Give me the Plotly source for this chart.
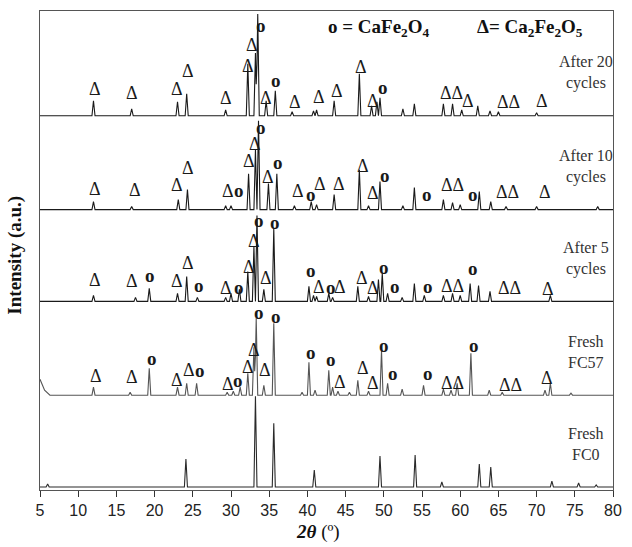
import plotly.graph_objects as go

# ---------------- data (2theta in degrees, intensity in a.u.) ----------------
fc0_pos = [6.0, 24.1, 33.2, 35.6, 40.9, 49.5, 54.1, 57.6, 62.5, 64.0, 72.0, 75.5, 77.8]
fc0_int = [3, 28, 91, 64, 17, 31, 32, 5, 23, 20, 6, 4, 2]

fc57_pos = [12.0, 16.8, 19.3, 23.0, 24.2, 25.5, 29.5, 30.3, 31.2, 32.2, 33.0, 33.3, 34.3, 35.6,
            39.3, 40.2, 41.0, 42.8, 43.3, 44.0, 45.5, 46.6, 48.0, 49.7, 50.5, 52.4, 55.2,
            57.8, 58.8, 59.6, 61.4, 63.8, 65.5, 71.1, 71.8, 74.5]
fc57_int = [8, 3, 27, 8, 12, 12, 3, 4, 8, 22, 48, 77, 10, 72,
            3, 33, 5, 25, 8, 4, 3, 15, 4, 45, 12, 6, 10,
            6, 5, 12, 42, 5, 3, 5, 12, 2]
fc57_bg_x = [5.0, 5.6, 6.3]
fc57_bg_y = [16, 5, 0]

a5_pos = [12.0, 17.5, 19.3, 23.0, 24.2, 25.6, 29.3, 30.0, 31.1, 32.2, 33.0, 33.4, 34.3, 35.6,
          40.2, 40.8, 41.2, 42.8, 43.3, 46.6, 48.0, 49.3, 49.8, 50.5, 52.4, 54.0, 55.3,
          57.8, 59.0, 60.0, 61.3, 62.4, 63.9, 71.8]
a5_int = [6, 4, 13, 8, 25, 4, 4, 8, 12, 30, 55, 86, 12, 73,
          15, 6, 5, 8, 4, 15, 5, 22, 28, 8, 4, 18, 6,
          6, 8, 6, 18, 16, 10, 6]

a10_pos = [12.0, 17.0, 23.1, 24.3, 29.3, 30.0, 32.3, 33.2, 33.6, 34.9, 36.0, 38.3, 40.5, 41.2,
           43.5, 46.8, 48.0, 49.5, 52.5, 54.0, 57.8, 59.0, 60.0, 62.5, 64.0, 66.0, 70.0, 78.0]
a10_int = [8, 3, 10, 20, 4, 4, 36, 60, 89, 26, 36, 4, 8, 5,
           15, 40, 4, 28, 4, 22, 10, 7, 5, 18, 8, 3, 3, 3]

a20_pos = [12.0, 17.0, 23.0, 24.2, 29.3, 32.2, 33.2, 33.5, 34.6, 35.8, 38.0, 40.8, 41.2,
           43.5, 46.8, 48.4, 49.1, 49.5, 52.5, 54.0, 57.8, 59.0, 60.2, 62.3, 63.9, 65.0, 70.0]
a20_int = [15, 7, 14, 22, 6, 52, 63, 102, 15, 25, 4, 5, 6,
           15, 42, 10, 14, 18, 7, 12, 12, 12, 6, 10, 5, 4, 3]

# peak labels: (2theta, symbol, height above trace baseline)
# D = Ca2Fe2O5 triangle, O = CaFe2O4 circle, DD = two adjacent triangles
a20_lab_x = [12.2, 17.1, 22.9, 24.4, 29.4, 32.2, 32.8, 33.9, 34.6, 35.9, 38.4, 41.5, 43.9,
             47.0, 48.6, 49.9, 58.9, 61.0, 66.3, 70.7]
a20_lab_s = ["D", "D", "D", "D", "D", "D", "D", "O", "D", "O", "D", "D", "D",
             "D", "D", "O", "DD", "D", "DD", "D"]
a20_lab_h = [27, 23, 27, 45, 18, 50, 71, 90, 18, 35, 14, 19, 25,
             49, 15, 28, 23, 15, 14, 15]

a10_lab_x = [12.2, 17.4, 22.9, 24.4, 29.6, 31.0, 32.3, 33.2, 33.9, 34.8, 36.1, 38.8, 40.5,
             41.7, 44.1, 47.3, 48.6, 50.1, 55.7, 59.05, 61.7, 66.25, 71.1]
a10_lab_s = ["D", "D", "D", "D", "D", "O", "D", "D", "O", "D", "O", "D", "O",
             "D", "D", "D", "D", "O", "O", "DD", "O", "DD", "D"]
a10_lab_h = [21, 20, 25, 42, 19, 19, 49, 66, 82, 33, 47, 19, 15,
             26, 26, 44, 17, 34, 15, 25, 15, 18, 18]

a5_lab_x = [12.2, 17.1, 19.4, 22.9, 24.4, 25.8, 29.4, 31.0, 32.3, 33.0, 33.6, 34.6, 35.8,
            40.5, 41.5, 43.1, 44.3, 47.1, 48.6, 50.0, 51.4, 55.8, 59.0, 61.7,
            66.4, 71.5]
a5_lab_s = ["D", "D", "O", "D", "D", "O", "D", "O", "D", "D", "O", "D", "O",
            "O", "D", "O", "D", "D", "D", "O", "O", "O", "DD", "O",
            "DD", "D"]
a5_lab_h = [21, 20, 26, 20, 38, 16, 13, 14, 34, 61, 81, 23, 79,
            31, 14, 14, 14, 23, 13, 34, 15, 15, 15, 33,
            13, 12]

fc57_lab_x = [12.3, 17.1, 19.6, 22.9, 24.5, 25.9, 29.6, 30.9, 32.2, 33.0, 33.6, 34.5, 35.9,
              40.5, 43.1, 44.3, 47.3, 48.6, 50.0, 51.2, 55.8, 59.0, 61.8,
              66.55, 71.3]
fc57_lab_s = ["D", "D", "O", "D", "D", "O", "D", "O", "D", "D", "O", "D", "O",
              "O", "O", "D", "D", "D", "O", "O", "O", "DD", "O",
              "DD", "D"]
fc57_lab_h = [19, 18, 37, 15, 25, 25, 11, 15, 28, 45, 83, 25, 79,
              43, 36, 13, 27, 12, 50, 22, 22, 12, 50,
              10, 17]

sample_names = ["Fresh<br>FC0", "Fresh<br>FC57", "After 5<br>cycles",
                "After 10<br>cycles", "After 20<br>cycles"]

# ---------------- layout constants ----------------
offsets = [3, 95, 189, 281, 375]
half_w = 0.2
X_MIN, X_MAX = 5, 80
SYMBOL_TEXT = {"D": "\u0394", "DD": "\u0394\u0394", "O": "<b>o</b>"}
SYMBOL_SIZE = {"D": 18, "DD": 18, "O": 19}


def build_profile(pos, inten, bg_x=None, bg_y=None):
    verts = set([X_MIN, X_MAX])
    for p in pos:
        verts.update([p - half_w, p, p + half_w])
    if bg_x:
        verts.update(bg_x)
    xs = sorted(v for v in verts if X_MIN <= v <= X_MAX)
    ys = []
    for x in xs:
        y = 0.0
        for p, h in zip(pos, inten):
            d = abs(x - p)
            if d < half_w:
                y += h * (1 - d / half_w)
        if bg_x:
            for bx, by in zip(bg_x, bg_y):
                if abs(bx - x) < 1e-9:
                    y += by
        ys.append(y)
    return xs, ys


traces = [
    (fc0_pos, fc0_int, None, None, "#2a2a2a"),
    (fc57_pos, fc57_int, fc57_bg_x, fc57_bg_y, "#555555"),
    (a5_pos, a5_int, None, None, "#1a1a1a"),
    (a10_pos, a10_int, None, None, "#1a1a1a"),
    (a20_pos, a20_int, None, None, "#1a1a1a"),
]
labels = [
    None,
    (fc57_lab_x, fc57_lab_s, fc57_lab_h),
    (a5_lab_x, a5_lab_s, a5_lab_h),
    (a10_lab_x, a10_lab_s, a10_lab_h),
    (a20_lab_x, a20_lab_s, a20_lab_h),
]

fig = go.Figure()
annotations = []
for i, (pos, inten, bx, by, col) in enumerate(traces):
    xs, ys = build_profile(pos, inten, bx, by)
    fig.add_trace(go.Scatter(x=xs, y=[v + offsets[i] for v in ys], mode="lines",
                             line=dict(color=col, width=1.1), showlegend=False,
                             hoverinfo="skip"))
    if labels[i]:
        lx, ls, lh = labels[i]
        for x, s, h in zip(lx, ls, lh):
            annotations.append(dict(x=x, y=h + offsets[i], xref="x", yref="y",
                                    text=SYMBOL_TEXT[s], showarrow=False,
                                    font=dict(family="Liberation Serif", size=SYMBOL_SIZE[s],
                                              color="#1a1a1a")))
    annotations.append(dict(x=76.4, y=offsets[i] + 43, xref="x", yref="y",
                            text=sample_names[i], showarrow=False, align="center",
                            font=dict(family="Liberation Serif", size=16, color="#333333")))

annotations += [
    dict(x=0.591, y=0.965, xref="paper", yref="paper", xanchor="center", yanchor="middle",
         text="<b>o = CaFe<sub>2</sub>O<sub>4</sub></b>", showarrow=False,
         font=dict(family="Liberation Serif", size=19, color="#111111")),
    dict(x=0.856, y=0.965, xref="paper", yref="paper", xanchor="center", yanchor="middle",
         text="<b>\u0394= Ca<sub>2</sub>Fe<sub>2</sub>O<sub>5</sub></b>", showarrow=False,
         font=dict(family="Liberation Serif", size=19, color="#111111")),
    dict(x=-0.043, y=0.49, xref="paper", yref="paper", textangle=-90,
         xanchor="center", yanchor="middle",
         text="<b>Intensity (a.u.)</b>", showarrow=False,
         font=dict(family="Liberation Serif", size=19, color="#111111")),
    dict(x=0.485, y=-0.088, xref="paper", yref="paper", xanchor="center", yanchor="middle",
         text="<b><i>2\u03b8</i></b> (\u00ba)", showarrow=False,
         font=dict(family="Liberation Serif", size=19, color="#111111")),
]

fig.update_layout(
    width=632, height=547,
    margin=dict(l=40, r=15, t=10, b=57),
    paper_bgcolor="white", plot_bgcolor="white",
    annotations=annotations,
    xaxis=dict(range=[X_MIN, X_MAX], tickmode="linear", tick0=5, dtick=5,
               ticks="outside", ticklen=6, tickcolor="#333", showgrid=False, zeroline=False,
               showline=True, linecolor="#555", linewidth=1, mirror=True,
               tickfont=dict(family="Liberation Sans", size=16, color="#222")),
    yaxis=dict(range=[0, 480], showticklabels=False, ticks="", showgrid=False, zeroline=False,
               showline=True, linecolor="#555", linewidth=1, mirror=True),
)

fig.write_html("out.html")
